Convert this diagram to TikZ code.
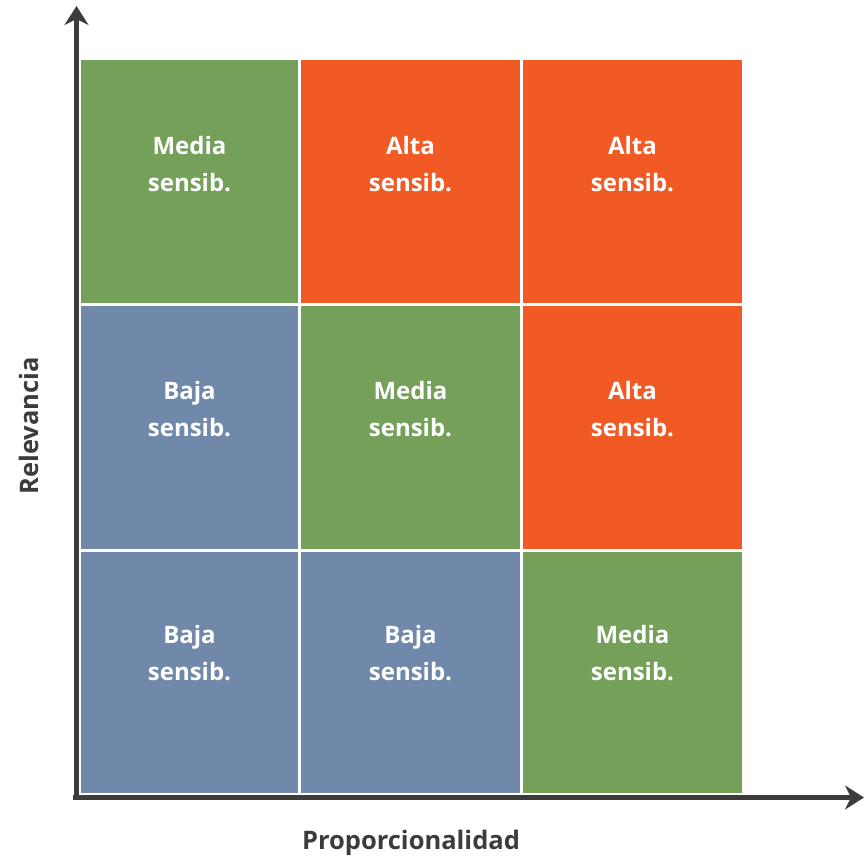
\documentclass[tikz,border=0pt]{standalone}
\usepackage{fontspec}
\setmainfont{Open Sans}
\usetikzlibrary{arrows.meta}
\definecolor{cgreen}{HTML}{74A05A}
\definecolor{corange}{HTML}{F15A24}
\definecolor{cblue}{HTML}{7089AB}
\definecolor{caxis}{HTML}{3C3C3C}
\tikzset{
  cell/.style={fill=#1, draw=none, inner sep=0pt},
  lbl/.style={text=white, font=\fontsize{24}{37}\selectfont\bfseries, align=center, inner sep=0pt},
  axis/.style={draw=caxis, line width=5pt, -{Stealth[length=19pt,width=24pt,inset=6pt]}},
  axlbl/.style={text=caxis, font=\fontsize{25.5}{28}\selectfont\bfseries, inner sep=0pt}
}
\begin{document}
\begin{tikzpicture}[x=1pt,y=-1pt]
\useasboundingbox (0,0) rectangle (864,857);
% axes
\coordinate (o) at (76.5,799);
\coordinate (ytop) at (76.5,6);
\coordinate (ox) at (73,797.5);
\coordinate (xend) at (864,797.5);
\draw[axis] (o) -- (ytop);
\draw[axis] (ox) -- (xend);
% cells
\def\cA{81}\def\cB{298}\def\cC{301}\def\cD{520}\def\cE{523}\def\cF{742}
\def\rA{60}\def\rB{303}\def\rC{306}\def\rD{549}\def\rE{552}\def\rF{793}
\fill[cgreen]  (\cA,\rA) rectangle (\cB,\rB);
\fill[corange] (\cC,\rA) rectangle (\cD,\rB);
\fill[corange] (\cE,\rA) rectangle (\cF,\rB);
\fill[cblue]   (\cA,\rC) rectangle (\cB,\rD);
\fill[cgreen]  (\cC,\rC) rectangle (\cD,\rD);
\fill[corange] (\cE,\rC) rectangle (\cF,\rD);
\fill[cblue]   (\cA,\rE) rectangle (\cB,\rF);
\fill[cblue]   (\cC,\rE) rectangle (\cD,\rF);
\fill[cgreen]  (\cE,\rE) rectangle (\cF,\rF);
% labels
\node[lbl] (t11) at (189.5,164) {Media\\sensib.};
\node[lbl] (t12) at (410.5,164) {Alta\\sensib.};
\node[lbl] (t13) at (632.5,164) {Alta\\sensib.};
\node[lbl] (t21) at (189.5,409) {Baja\\sensib.};
\node[lbl] (t22) at (410.5,409) {Media\\sensib.};
\node[lbl] (t23) at (632.5,409) {Alta\\sensib.};
\node[lbl] (t31) at (189.5,653) {Baja\\sensib.};
\node[lbl] (t32) at (410.5,653) {Baja\\sensib.};
\node[lbl] (t33) at (632.5,653) {Media\\sensib.};
% axis labels
\node[axlbl, rotate=90] (ylab) at (29,426) {Relevancia};
\node[axlbl] (xlab) at (411,843) {Proporcionalidad};
\end{tikzpicture}
\end{document}
